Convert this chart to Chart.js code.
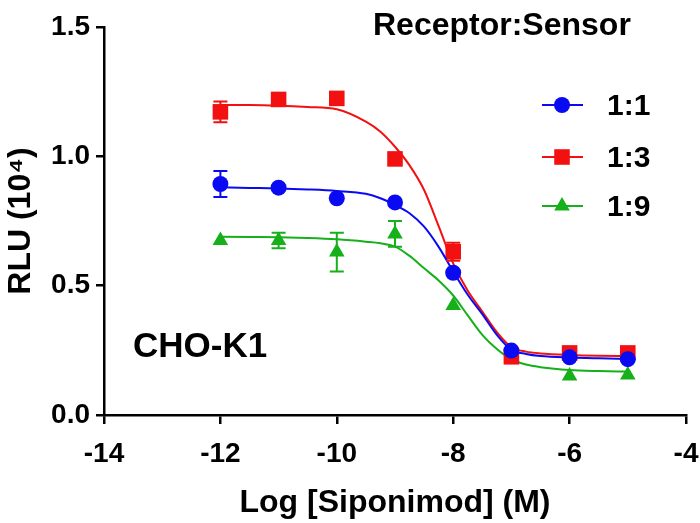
<!DOCTYPE html>
<html>
<head>
<meta charset="utf-8">
<script src="https://cdn.jsdelivr.net/npm/chart.js@4/dist/chart.umd.min.js"></script>
<style>
  html, body { margin: 0; padding: 0; background: #fff; }
</style>
</head>
<body>
<canvas id="doseChart" width="700" height="523"></canvas>
<script>
// measured points, log [Siponimod] (M)
const logConc = [-12, -11, -10, -9, -8, -7, -6, -5];
const rlu11 = [0.893, 0.879, 0.838, 0.822, 0.550, 0.249, 0.223, 0.216];
const err11 = [0.050, 0, 0, 0, 0, 0, 0, 0];
const rlu13 = [1.172, 1.220, 1.224, 0.990, 0.631, 0.225, 0.240, 0.240];
const err13 = [0.040, 0, 0.020, 0, 0.035, 0, 0, 0];
const rlu19 = [0.675, 0.675, 0.630, 0.700, 0.423, 0.225, 0.151, 0.155];
const err19 = [0, 0.030, 0.075, 0.050, 0, 0, 0, 0];

// fitted curves
const curveX = [-12, -11.5, -11, -10.5, -10, -9.5, -9.25, -9, -8.75, -8.5, -8.25, -8, -7.75, -7.5, -7.25, -7, -6.75, -6.5, -6, -5.5, -5];
const curve11 = [0.880, 0.878, 0.876, 0.872, 0.866, 0.855, 0.838, 0.812, 0.780, 0.728, 0.650, 0.555, 0.465, 0.390, 0.310, 0.252, 0.236, 0.228, 0.222, 0.219, 0.217];
const curve13 = [1.198, 1.198, 1.196, 1.191, 1.182, 1.134, 1.095, 1.037, 0.965, 0.870, 0.730, 0.586, 0.480, 0.400, 0.320, 0.262, 0.245, 0.238, 0.232, 0.229, 0.228];
const curve19 = [0.689, 0.688, 0.687, 0.684, 0.679, 0.670, 0.664, 0.651, 0.615, 0.567, 0.520, 0.462, 0.385, 0.310, 0.255, 0.215, 0.195, 0.185, 0.174, 0.170, 0.168];

const seriesNames = ['1:1', '1:3', '1:9'];
const xTickValues = [-14, -12, -10, -8, -6, -4];
const yTickValues = [0, 0.5, 1.0, 1.5];

const BLUE = '#0a0af2';
const RED = '#f21010';
const GREEN = '#16b01a';
const FONT = "'Liberation Sans', Arial, sans-serif";

const toPts = (xs, ys) => xs.map((x, i) => ({ x: x, y: ys[i] }));

function markerSet(label, ys, errs, color, style, radius, order) {
  return {
    label: label, data: toPts(logConc, ys), errors: errs,
    showLine: false, pointStyle: style, pointRadius: radius, pointHoverRadius: radius,
    backgroundColor: color, borderColor: color, borderWidth: 0, order: order
  };
}
function curveSet(ys, color, order) {
  return {
    data: toPts(curveX, ys), showLine: true, pointRadius: 0, pointHoverRadius: 0,
    borderColor: color, borderWidth: 2, cubicInterpolationMode: 'monotone',
    fill: false, order: order
  };
}

// error bars with caps
const errorBars = {
  id: 'errorBars',
  afterDatasetsDraw(chart) {
    const ctx = chart.ctx, ys = chart.scales.y;
    chart.data.datasets.forEach((ds, i) => {
      if (!ds.errors) return;
      const meta = chart.getDatasetMeta(i);
      ctx.save();
      ctx.strokeStyle = ds.borderColor;
      ctx.lineWidth = 2;
      ds.data.forEach((p, j) => {
        const e = ds.errors[j];
        if (!e) return;
        const px = meta.data[j].x;
        const top = ys.getPixelForValue(p.y + e);
        const bot = ys.getPixelForValue(p.y - e);
        ctx.beginPath();
        ctx.moveTo(px, top); ctx.lineTo(px, bot);
        ctx.moveTo(px - 7, top); ctx.lineTo(px + 7, top);
        ctx.moveTo(px - 7, bot); ctx.lineTo(px + 7, bot);
        ctx.stroke();
      });
      ctx.restore();
    });
  }
};

// legend, header and cell line label
const annotations = {
  id: 'annotations',
  afterDraw(chart) {
    const ctx = chart.ctx;
    ctx.save();
    ctx.fillStyle = '#000';
    ctx.textBaseline = 'alphabetic';
    ctx.textAlign = 'left';
    ctx.font = 'bold 32px ' + FONT;
    ctx.fillText('Receptor:Sensor', 373, 35);
    ctx.font = 'bold 35px ' + FONT;
    ctx.fillText('CHO-K1', 133, 357);

    const rows = [
      { y: 105, color: BLUE, style: 'circle', r: 8 },
      { y: 157, color: RED, style: 'rect', r: 11 },
      { y: 206, color: GREEN, style: 'triangle', r: 9 }
    ];
    ctx.font = 'bold 30px ' + FONT;
    rows.forEach((row, i) => {
      ctx.strokeStyle = row.color;
      ctx.lineWidth = 2;
      ctx.beginPath();
      ctx.moveTo(542, row.y); ctx.lineTo(583, row.y);
      ctx.stroke();
      ctx.fillStyle = row.color;
      Chart.helpers.drawPoint(ctx, { pointStyle: row.style, radius: row.r, rotation: 0, borderWidth: 0 }, 562, row.y);
      ctx.fillStyle = '#000';
      ctx.fillText(seriesNames[i], 607, row.y + 10);
    });
    ctx.restore();
  }
};

const ctx = document.getElementById('doseChart').getContext('2d');
new Chart(ctx, {
  type: 'scatter',
  data: {
    datasets: [
      markerSet(seriesNames[0], rlu11, err11, BLUE, 'circle', 8, 0),
      curveSet(curve11, BLUE, 1),
      markerSet(seriesNames[1], rlu13, err13, RED, 'rect', 11, 2),
      curveSet(curve13, RED, 3),
      markerSet(seriesNames[2], rlu19, err19, GREEN, 'triangle', 9, 4),
      curveSet(curve19, GREEN, 5)
    ]
  },
  options: {
    responsive: false,
    animation: false,
    devicePixelRatio: 1,
    layout: { padding: { top: 27, right: 0, left: 0, bottom: 0 } },
    plugins: { legend: { display: false }, tooltip: { enabled: false } },
    scales: {
      x: {
        type: 'linear', min: -14, max: -4,
        afterBuildTicks: s => { s.ticks = xTickValues.map(v => ({ value: v })); },
        afterFit: s => { s.height = 108; s.paddingLeft = 0; s.paddingRight = 14; },
        border: { display: true, color: '#000', width: 2.5 },
        grid: { drawOnChartArea: false, drawTicks: true, tickLength: 9, color: '#000', lineWidth: 2.5 },
        ticks: { color: '#000', padding: 13, font: { family: FONT, size: 28, weight: 'bold' }, maxRotation: 0 },
        title: { display: true, text: 'Log [Siponimod] (M)', color: '#000',
                 font: { family: FONT, size: 32, weight: 'bold' }, padding: { top: 0, bottom: 1 } }
      },
      y: {
        type: 'linear', min: 0, max: 1.5,
        afterBuildTicks: s => { s.ticks = yTickValues.map(v => ({ value: v })); },
        afterFit: s => { s.width = 104; },
        border: { display: true, color: '#000', width: 2.5 },
        grid: { drawOnChartArea: false, drawTicks: true, tickLength: 8, color: '#000', lineWidth: 2.5 },
        ticks: { color: '#000', padding: 6, font: { family: FONT, size: 28, weight: 'bold' },
                 callback: v => v.toFixed(1) },
        title: { display: true, text: 'RLU (10⁴)', color: '#000',
                 font: { family: FONT, size: 32, weight: 'bold' }, padding: { top: 2, bottom: 0 } }
      }
    }
  },
  plugins: [errorBars, annotations]
});
</script>
</body>
</html>
